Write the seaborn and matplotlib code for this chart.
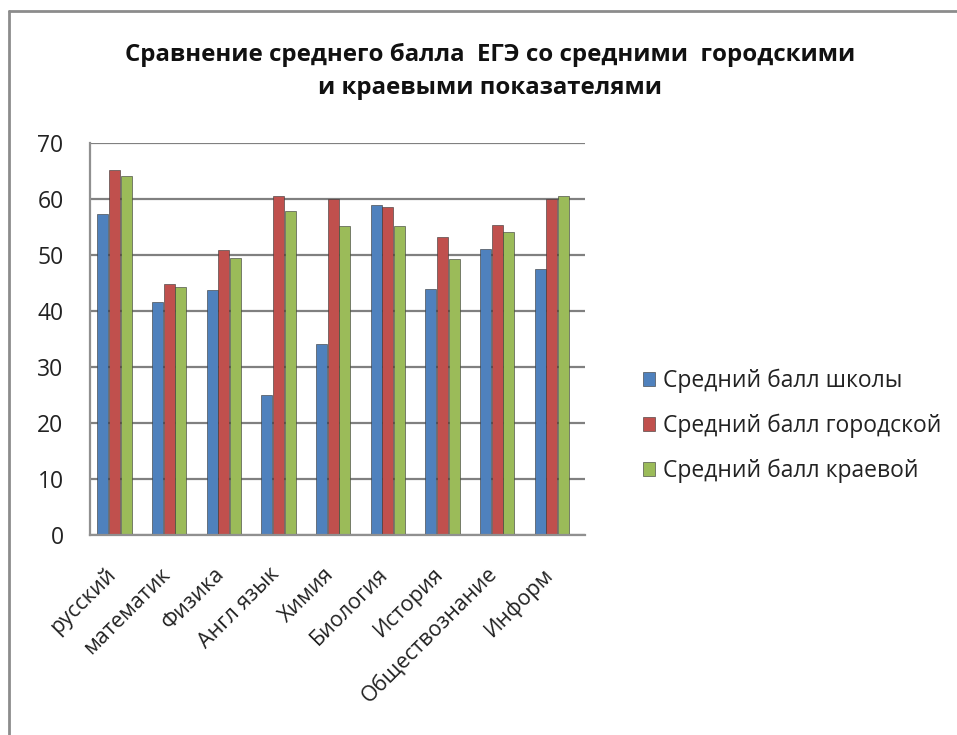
import numpy as np
import pandas as pd
import matplotlib
matplotlib.use("Agg")
import matplotlib.pyplot as plt
import matplotlib.transforms as mtransforms
import seaborn as sns
from matplotlib.lines import Line2D

# data
subjects = ["русский", "математик", "Физика", "Англ язык", "Химия",
            "Биология", "История", "Обществознание", "Информ"]
school = [57.3, 41.7, 43.8, 25.0, 34.1, 59.0, 44.0, 51.2, 47.6]
city = [65.2, 44.9, 51.0, 60.6, 60.1, 58.7, 53.3, 55.4, 60.1]
region = [64.1, 44.4, 49.5, 57.9, 55.3, 55.3, 49.4, 54.2, 60.5]
series_names = ["Средний балл школы", "Средний балл городской", "Средний балл краевой"]
colors = ["#4F81BD", "#C0504D", "#9BBB59"]

df = pd.DataFrame({
    "subject": subjects * 3,
    "value": school + city + region,
    "series": [series_names[0]] * 9 + [series_names[1]] * 9 + [series_names[2]] * 9,
})

sns.set_theme(style="white")
plt.rcParams["font.family"] = ["Open Sans", "DejaVu Sans"]

fig = plt.figure(figsize=(9.57, 7.35), dpi=100)
ax = fig.add_axes([0.094, 0.272, 0.517, 0.533])

sns.barplot(data=df, x="subject", y="value", hue="series", palette=colors,
            width=0.64, gap=0.05, edgecolor="#333333", linewidth=0.4,
            saturation=1, ax=ax, legend=True)

ax.set_ylim(0, 70)
ax.set_yticks(range(0, 71, 10))
ax.set_xlim(-0.45, 8.6)
ax.yaxis.grid(True, color="#808080", linewidth=1.6)
ax.set_axisbelow(True)
ax.set_xlabel("")
ax.set_ylabel("")
for s in ["top", "right"]:
    ax.spines[s].set_visible(False)
for s in ["left", "bottom"]:
    ax.spines[s].set_color("#909090")
    ax.spines[s].set_linewidth(1.6)
ax.tick_params(axis="y", labelsize=16.5, pad=19, length=0, labelcolor="#222222")
ax.tick_params(axis="x", labelsize=15.5, length=0, pad=14, labelcolor="#222222")
shift = mtransforms.ScaledTranslation(-10 / 100, -9 / 100, fig.dpi_scale_trans)
for lab in ax.get_xticklabels():
    lab.set_rotation(45)
    lab.set_ha("right")
    lab.set_rotation_mode("anchor")
    lab.set_transform(lab.get_transform() + shift)

handles, labels = ax.get_legend_handles_labels()
ax.legend(handles, labels, loc="center left", bbox_to_anchor=(0.65, 0.42),
          bbox_transform=fig.transFigure, frameon=False, fontsize=16.5,
          labelspacing=0.9, handlelength=0.55, handleheight=0.55, handletextpad=0.35,
          labelcolor="#222222")

fig.text(0.512, 0.925, "Сравнение среднего балла  ЕГЭ со средними  городскими",
         ha="center", va="center", fontsize=17.3, fontweight="bold", color="#111111")
fig.text(0.512, 0.88, "и краевыми показателями",
         ha="center", va="center", fontsize=17.3, fontweight="bold", color="#111111")

# chart frame (only top and left edges are visible in the reference)
fig.add_artist(Line2D([0.0095, 1.0], [0.985, 0.985], transform=fig.transFigure,
                      color="#8c8c8c", linewidth=2))
fig.add_artist(Line2D([0.0095, 0.0095], [0.0, 0.985], transform=fig.transFigure,
                      color="#8c8c8c", linewidth=2))

fig.savefig("out.png", dpi=100, facecolor="white")
